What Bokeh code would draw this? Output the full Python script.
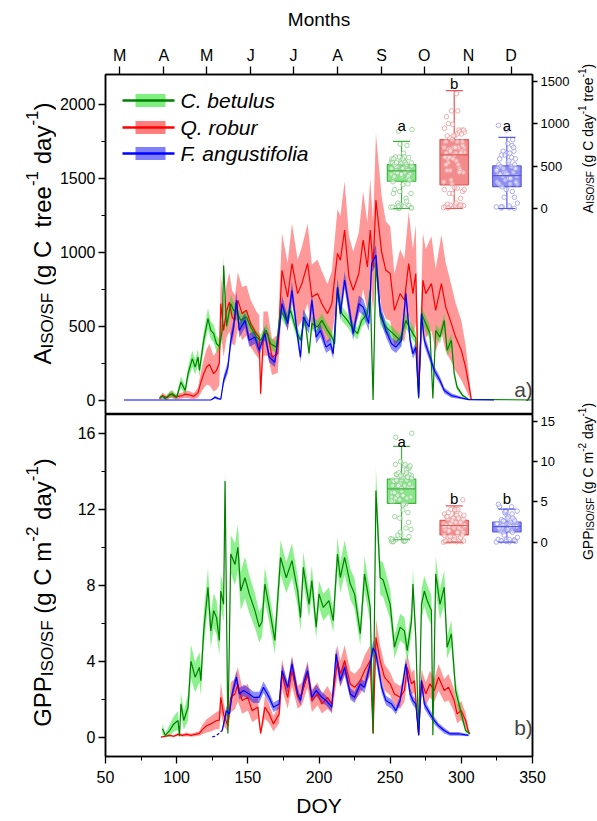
import math
import numpy as np
from bokeh.plotting import figure
from bokeh.models import Range1d, LinearAxis, FixedTicker, Label, BoxAnnotation, ColumnDataSource
from bokeh.layouts import column, row
from bokeh.embed import file_html
from bokeh.resources import INLINE
from bokeh.core.properties import value

FONT = "Liberation Sans"

# ---------------- data: panel a) A_ISO/SF ----------------
cb_a_doy = [88, 90, 92, 95, 97, 100, 103, 106, 108, 111, 113, 115, 116, 119, 122, 124, 126, 128, 130, 132,
            133, 135, 138, 140, 142, 145, 149, 152, 156, 159, 163, 166, 170, 173, 177, 180, 184, 187, 190, 193,
            195, 199, 202, 206, 209, 211, 213, 216, 220, 223, 227, 230, 234, 236, 238, 240, 243, 247, 252, 257,
            261, 266, 268, 270, 272, 275, 278, 280, 282, 285, 288, 290, 293, 295, 297, 301, 305, 350]
cb_a_mean = [15, 25, 10, 35, 42, 19, 121, 64, 178, 280, 223, 290, 200, 404, 551, 471, 449, 381, 363, 470,
             910, 500, 652, 607, 600, 539, 562, 494, 426, 404, 471, 381, 358, 607, 539, 607, 471, 404, 562, 315,
             518, 494, 539, 471, 426, 381, 760, 585, 539, 494, 449, 539, 585, 743, 0, 930, 562, 494, 449, 404,
             539, 449, 420, 10, 585, 517, 449, 10, 471, 426, 539, 336, 404, 178, 87, 30, 5, 0]
cb_a_sd = [10, 15, 10, 20, 25, 15, 40, 30, 45, 55, 50, 55, 45, 60, 70, 60, 60, 55, 50, 60,
           60, 50, 60, 55, 55, 50, 50, 45, 45, 40, 45, 40, 35, 50, 45, 50, 40, 35, 45, 30,
           45, 45, 45, 40, 40, 35, 55, 50, 45, 45, 40, 45, 50, 55, 0, 60, 50, 45, 40, 40,
           50, 45, 40, 0, 50, 50, 45, 0, 45, 45, 50, 40, 45, 30, 20, 10, 3, 0]

qr_a_doy = [88, 90, 93, 96, 99, 101, 104, 106, 109, 112, 115, 117, 119, 121, 123, 126, 128, 130, 131, 133,
            135, 137, 139, 141, 143, 146, 149, 152, 156, 158, 159, 161, 164, 167, 171, 174, 178, 181, 185, 188,
            192, 195, 199, 202, 206, 209, 213, 215, 218, 221, 224, 228, 231, 234, 236, 238, 240, 244, 247, 250,
            253, 257, 260, 263, 266, 268, 270, 273, 275, 279, 282, 286, 289, 293, 296, 300, 303, 306, 307]
qr_a_mean = [10, 30, 15, 40, 20, 25, 30, 40, 35, 25, 50, 120, 178, 223, 240, 178, 200, 250, 652, 471,
             600, 663, 560, 539, 675, 585, 607, 517, 449, 426, 42, 449, 449, 290, 313, 878, 697, 924, 720, 788,
             924, 697, 720, 652, 585, 652, 992, 946, 1150, 833, 743, 856, 1082, 901, 1150, 900, 1353, 1000, 878, 856,
             607, 720, 675, 924, 720, 856, 42, 811, 720, 788, 607, 788, 630, 517, 426, 336, 223, 64, 5]
qr_a_sd = [10, 20, 15, 25, 15, 20, 20, 25, 25, 20, 35, 70, 100, 120, 140, 120, 130, 150, 200, 180,
           180, 200, 180, 170, 190, 180, 170, 160, 150, 150, 30, 150, 150, 120, 130, 250, 230, 270, 230, 250,
           270, 220, 230, 220, 200, 220, 300, 300, 330, 280, 260, 280, 330, 300, 350, 300, 450, 380, 330, 320,
           250, 300, 280, 350, 300, 330, 30, 320, 300, 320, 280, 330, 300, 260, 230, 200, 150, 50, 5]

fa_a_doy = [63, 124, 127, 129, 131, 133, 136, 138, 140, 142, 144, 148, 151, 155, 158, 162, 165, 169, 172, 174,
            178, 181, 185, 187, 189, 193, 195, 198, 201, 205, 208, 210, 213, 215, 218, 221, 224, 228, 231, 235,
            237, 240, 243, 247, 251, 254, 258, 261, 264, 266, 268, 270, 272, 274, 278, 281, 285, 288, 293, 298,
            305, 323]
fa_a_mean = [0, 0, 19, 10, 5, 132, 223, 400, 494, 675, 471, 539, 404, 426, 336, 449, 290, 256, 471, 652,
             517, 743, 426, 290, 562, 494, 675, 426, 471, 358, 381, 313, 765, 585, 811, 630, 449, 652, 630, 517,
             924, 980, 600, 471, 381, 358, 404, 720, 404, 313, 358, 19, 585, 404, 290, 200, 132, 64, 30, 19,
             3, 0]
fa_a_sd = [0, 0, 10, 8, 5, 30, 40, 50, 55, 60, 50, 50, 45, 45, 40, 45, 35, 35, 45, 55,
           50, 60, 45, 35, 50, 45, 55, 45, 45, 40, 40, 35, 60, 50, 60, 55, 45, 55, 55, 50,
           65, 70, 55, 45, 40, 40, 40, 55, 40, 35, 35, 5, 50, 40, 35, 30, 25, 20, 15, 10,
           3, 0]

# ---------------- data: panel b) GPP_ISO/SF ----------------
cb_g_doy = [90, 92, 95, 98, 101, 102, 103, 105, 108, 110, 113, 116, 117, 119, 122, 124, 126, 128, 130, 131,
            133, 134, 136, 138, 141, 143, 145, 148, 151, 155, 158, 160, 162, 165, 169, 173, 177, 181, 185, 187,
            189, 193, 195, 198, 200, 203, 207, 210, 213, 215, 218, 222, 225, 229, 232, 236, 238, 240, 243, 245,
            250, 253, 257, 260, 262, 265, 266, 268, 270, 272, 274, 276, 279, 280, 282, 285, 288, 290, 293, 296,
            300, 303, 306]
cb_g_mean = [0.44, 0.1, 0.35, 0.7, 0.88, 0.05, 1.76, 0.88, 1.58, 4.0, 3.16, 3.68, 2.98, 5.6, 7.9, 5.6, 6.67, 6.3, 5.1, 7.7,
             7.0, 13.5, 0.2, 9.65, 9.1, 10.0, 7.7, 8.4, 7.55, 6.67, 5.8, 6.1, 8.07, 6.84, 5.1, 9.47, 8.4, 9.3, 7.7, 6.3,
             8.95, 7.0, 8.25, 5.8, 7.55, 6.84, 7.2, 6.14, 9.65, 8.4, 9.47, 8.07, 7.55, 5.45, 8.6, 6.84, 0.2, 13.0, 8.4, 8.3,
             7.0, 4.74, 5.8, 5.6, 4.56, 6.14, 8.07, 5.26, 0.1, 7.0, 7.7, 7.2, 6.67, 0.1, 8.6, 7.0, 7.9, 4.74, 5.45, 2.46,
             1.23, 0.35, 0.18]
cb_g_sd = [0.3, 0.1, 0.3, 0.4, 0.5, 0.05, 0.6, 0.5, 0.7, 0.9, 0.8, 0.8, 0.8, 0.9, 1.0, 0.9, 0.9, 0.9, 0.8, 0.9,
           0.9, 0.6, 0.1, 1.0, 1.1, 1.2, 1.0, 1.1, 1.0, 0.9, 0.8, 0.8, 0.9, 0.8, 0.7, 0.9, 0.8, 0.9, 0.8, 0.7,
           0.8, 0.7, 0.8, 0.6, 0.7, 0.7, 0.7, 0.6, 0.9, 0.8, 0.9, 0.8, 0.8, 0.6, 0.9, 0.8, 0.1, 1.2, 0.9, 0.9,
           0.8, 0.6, 0.7, 0.7, 0.6, 0.7, 0.8, 0.6, 0.05, 0.8, 0.8, 0.8, 0.8, 0.05, 0.9, 0.8, 0.9, 0.6, 0.7, 0.5,
           0.3, 0.1, 0.05]

qr_g_doy = [89, 92, 95, 98, 101, 104, 107, 110, 113, 116, 118, 121, 124, 128, 130, 131, 133, 136, 138, 141,
            143, 146, 150, 153, 157, 159, 162, 165, 168, 172, 174, 178, 181, 185, 188, 192, 195, 199, 202, 206,
            209, 213, 215, 218, 222, 225, 229, 232, 236, 238, 240, 243, 246, 250, 253, 257, 260, 262, 265, 267,
            270, 272, 275, 278, 281, 284, 288, 291, 295, 297, 300, 303, 305, 306]
qr_g_mean = [0.0, 0.05, 0.1, 0.05, 0.15, 0.1, 0.15, 0.1, 0.15, 0.2, 0.4, 0.6, 0.7, 0.88, 0.9, 2.1, 1.2, 0.6, 2.1, 2.28,
             2.8, 1.93, 2.1, 1.4, 1.58, 0.2, 1.58, 1.23, 0.7, 1.23, 3.33, 2.1, 3.5, 2.1, 2.28, 3.33, 1.93, 2.28, 1.75, 2.1,
             1.75, 4.04, 3.33, 4.04, 2.8, 2.63, 2.98, 3.5, 4.04, 0.2, 5.26, 4.0, 3.16, 2.81, 2.28, 2.1, 2.46, 3.68, 2.81, 2.98,
             0.1, 2.98, 2.28, 2.81, 2.46, 3.16, 2.46, 2.63, 1.93, 1.23, 1.4, 0.88, 0.3, 0.18]
qr_g_sd = [0.02, 0.05, 0.05, 0.05, 0.08, 0.08, 0.1, 0.08, 0.1, 0.12, 0.25, 0.35, 0.4, 0.45, 0.5, 0.8, 0.6, 0.3, 0.8, 0.8,
           0.9, 0.7, 0.7, 0.6, 0.6, 0.1, 0.6, 0.5, 0.4, 0.5, 0.8, 0.6, 0.8, 0.6, 0.6, 0.7, 0.6, 0.6, 0.5, 0.6,
           0.5, 0.8, 0.7, 0.8, 0.7, 0.7, 0.7, 0.8, 0.8, 0.1, 1.0, 0.8, 0.7, 0.6, 0.6, 0.6, 0.6, 0.7, 0.6, 0.6,
           0.05, 0.6, 0.6, 0.7, 0.6, 0.7, 0.6, 0.7, 0.6, 0.5, 0.5, 0.4, 0.15, 0.05]

fa_g_doy = [132, 135, 137, 139, 142, 144, 147, 151, 154, 158, 161, 165, 168, 172, 174, 178, 181, 185, 187, 189,
            192, 195, 198, 202, 205, 209, 212, 215, 218, 222, 225, 229, 232, 236, 238, 240, 244, 247, 251, 254,
            257, 261, 264, 266, 268, 270, 272, 274, 278, 281, 284, 288, 292, 298, 305]
fa_g_mean = [0.35, 1.4, 1.23, 2.28, 3.16, 2.28, 2.46, 2.28, 2.1, 2.1, 2.63, 2.1, 1.58, 1.75, 3.5, 2.63, 3.86, 2.28, 1.93, 2.8,
             3.5, 2.1, 2.46, 2.1, 1.93, 1.58, 4.39, 2.98, 3.68, 2.28, 2.1, 2.8, 2.63, 3.86, 4.7, 4.39, 2.63, 1.93, 1.75, 1.4,
             1.93, 3.86, 2.28, 1.93, 1.75, 0.1, 2.98, 1.75, 1.23, 0.88, 0.6, 0.35, 0.18, 0.18, 0.1]
fa_g_sd = [0.1, 0.25, 0.25, 0.3, 0.35, 0.3, 0.3, 0.3, 0.3, 0.3, 0.3, 0.3, 0.25, 0.25, 0.35, 0.3, 0.35, 0.3, 0.25, 0.3,
           0.35, 0.3, 0.3, 0.3, 0.25, 0.25, 0.4, 0.3, 0.35, 0.3, 0.3, 0.3, 0.3, 0.35, 0.4, 0.4, 0.3, 0.25, 0.25, 0.2,
           0.25, 0.35, 0.3, 0.25, 0.25, 0.05, 0.3, 0.25, 0.2, 0.2, 0.15, 0.15, 0.1, 0.1, 0.05]
fa_g_dash_doy = [125, 127, 129, 131, 132]
fa_g_dash_mean = [0.02, 0.05, 0.15, 0.3, 0.35]

# ---------------- box plot summaries (right axes) ----------------
box_pos = [258, 295, 332]
a_lo = [0, 0, 0]
a_q1 = [321, 279, 259]
a_med = [443, 632, 388]
a_q3 = [518, 812, 502]
a_hi = [792, 1388, 839]
a_letters = ["a", "b", "a"]
a_letter_y = [976, 1474, 976]

g_lo = [0.3, 0, 0]
g_q1 = [4.8, 0.9, 1.29]
g_med = [6.6, 2.07, 1.94]
g_q3 = [7.82, 2.7, 2.48]
g_hi = [11.87, 4.5, 4.1]
g_letters = ["a", "b", "b"]
g_letter_y = [12.5, 5.46, 5.46]

month_ticks = [60, 91, 121, 152, 182, 213, 244, 274, 305, 335]
month_labels = ["M", "A", "M", "J", "J", "A", "S", "O", "N", "D"]
species = ["C. betulus", "Q. robur", "F. angustifolia"]

# ---------------- styles ----------------
LINE = ["#008000", "#FF0000", "#0000FF"]
BAND = ["#00E000", "#FF0000", "#0000FF"]
BAND_A = [0.45, 0.4, 0.45]
BOX_FILL = ["#86E886", "#F28C8C", "#8C8CF2"]
BOX_LINE = ["#45B045", "#E05A5A", "#5A5AE0"]
PT_LINE = ["#8CCF8C", "#EE9A9A", "#9A9AEE"]

PAGE_H = 821
LW = 56          # left title strip
RX = 572         # right title strip starts here
MW = RX - LW     # main plots width
FRAME_L = 103 - LW
FRAME_R = RX - 534

AW = {' ': 278, '(': 333, ')': 333, '/': 278, '-': 333, '1': 556, '2': 556, 'A': 667, 'C': 722, 'F': 611,
      'G': 778, 'I': 278, 'O': 778, 'P': 667, 'S': 667, 'a': 556, 'd': 556, 'e': 556, 'g': 556, 'm': 833,
      'r': 333, 't': 278, 'y': 500}


def tw(s, size):
    return sum(AW.get(c, 556) for c in s) * size / 1000.0


def vtitle(p, xb, yc, pieces):
    """Rotated rich title in a strip figure whose ranges are page pixels (y downward)."""
    total = sum(tw(t, s) for t, s, d in pieces)
    y = yc + total / 2.0
    for t, s, d in pieces:
        lead = len(t) - len(t.lstrip(' '))
        y -= lead * AW[' '] * s / 1000.0
        core = t.strip(' ')
        p.text(x=[xb - d], y=[y], text=[core], angle=math.pi / 2, text_font=value(FONT),
               text_font_size=value(f"{s}px"), text_align="left", text_baseline="alphabetic",
               text_color="black")
        y -= tw(core, s)


def strip_fig(x0, x1):
    f = figure(width=int(x1 - x0), height=PAGE_H, x_range=Range1d(x0, x1), y_range=Range1d(PAGE_H, 0),
               x_axis_location=None, y_axis_location=None, output_backend="svg", toolbar_location=None,
               min_border_left=0, min_border_right=0, min_border_top=0, min_border_bottom=0)
    f.grid.visible = False
    f.outline_line_color = None
    f.background_fill_color = "white"
    f.border_fill_color = "white"
    return f


def style_axis(ax, size="16px"):
    ax.axis_line_color = "black"
    ax.axis_line_width = 1.5
    ax.major_tick_line_color = "black"
    ax.major_tick_line_width = 1.3
    ax.minor_tick_line_color = "black"
    ax.minor_tick_line_width = 1.0
    ax.major_tick_in = 0
    ax.minor_tick_in = 0
    ax.major_label_text_font = FONT
    ax.major_label_text_font_size = size
    ax.major_label_text_color = "black"
    ax.axis_label_text_font = FONT
    ax.axis_label_text_font_style = "normal"
    ax.axis_label_text_color = "black"


def draw_panel(p, series, dashed=None):
    srcs = []
    for i in [1, 0, 2]:
        doy, mean, sd = series[i]
        m = np.array(mean, dtype=float)
        s = np.array(sd, dtype=float)
        src = ColumnDataSource(dict(x=doy, y=m, lo=np.clip(m - s, 0, None), hi=m + s))
        p.varea(x="x", y1="lo", y2="hi", source=src, fill_color=BAND[i], fill_alpha=BAND_A[i])
        srcs.append((i, src))
    for i, src in srcs:
        p.line(x="x", y="y", source=src, line_color=LINE[i], line_width=1.2)
    if dashed is not None:
        p.line(x=dashed[0], y=dashed[1], line_color=LINE[2], line_width=1.2, line_dash="3 2")


def draw_boxes(p, lo, q1, med, q3, hi, pts, letters, letter_y, fs):
    hw, cw, jw = 10, 6, 15
    for i, xc in enumerate(box_pos):
        p.segment(x0=[xc, xc], y0=[q3[i], q1[i]], x1=[xc, xc], y1=[hi[i], lo[i]],
                  line_color=BOX_LINE[i], line_width=1.2, y_range_name="r")
        p.quad(left=[xc - hw], right=[xc + hw], bottom=[q1[i]], top=[q3[i]],
               fill_color=BOX_FILL[i], line_color=BOX_LINE[i], line_width=1.2, y_range_name="r")
        vals = np.array(pts[i], dtype=float)
        offs = ((np.arange(len(vals)) * 0.6180339887) % 1.0 - 0.5) * jw
        p.scatter(x=xc + offs, y=vals, marker="circle", size=4.5, fill_color="white", fill_alpha=0.5,
                  line_color=PT_LINE[i], line_width=0.8, y_range_name="r")
        p.segment(x0=[xc - hw, xc - cw, xc - cw], y0=[med[i], hi[i], lo[i]],
                  x1=[xc + hw, xc + cw, xc + cw], y1=[med[i], hi[i], lo[i]],
                  line_color=BOX_LINE[i], line_width=1.2, y_range_name="r")
    p.text(x=box_pos, y=letter_y, text=letters, text_font=value(FONT), text_font_size=fs,
           text_align="center", text_baseline="middle", text_color="black", y_range_name="r")


x_range = Range1d(50, 350)

# ---------------- top panel ----------------
top = figure(width=MW, height=414, x_range=x_range, y_range=Range1d(-98, 2203),
             x_axis_location="above", output_backend="svg", toolbar_location=None,
             min_border_left=FRAME_L, min_border_right=FRAME_R, min_border_top=74, min_border_bottom=0)
top.grid.visible = False
top.outline_line_color = "black"
top.outline_line_width = 1.5
top.background_fill_color = "white"
top.border_fill_color = "white"

xa = top.xaxis[0]
style_axis(xa)
xa.ticker = FixedTicker(ticks=month_ticks)
xa.major_label_overrides = {t: l for t, l in zip(month_ticks, month_labels)}
xa.major_tick_out = 8
xa.minor_tick_out = 0
xa.major_label_standoff = 3
xa.axis_label = "Months"
xa.axis_label_text_font_size = "19px"
xa.axis_label_standoff = 14

ya = top.yaxis[0]
style_axis(ya)
ya.ticker = FixedTicker(ticks=[0, 500, 1000, 1500, 2000], minor_ticks=[250, 750, 1250, 1750])
ya.major_tick_out = 7
ya.minor_tick_out = 4
ya.major_label_standoff = 3

top.extra_y_ranges = {"r": Range1d(-2427, 1579)}
ra = LinearAxis(y_range_name="r", ticker=FixedTicker(ticks=[0, 500, 1000, 1500]))
style_axis(ra, "13px")
ra.major_tick_out = 5
ra.minor_tick_out = 0
ra.major_label_standoff = 3
top.add_layout(ra, "right")

draw_panel(top, [(cb_a_doy, cb_a_mean, cb_a_sd), (qr_a_doy, qr_a_mean, qr_a_sd), (fa_a_doy, fa_a_mean, fa_a_sd)])
draw_boxes(top, a_lo, a_q1, a_med, a_q3, a_hi,
           [cb_a_mean[:-1], qr_a_mean, fa_a_mean[2:-1]], a_letters, a_letter_y, "15px")

# legend (screen units relative to the frame)
for k, yy in enumerate([314, 287, 261]):
    top.add_layout(BoxAnnotation(left=30, right=60, bottom=yy - 6.5, top=yy + 6.5,
                                 left_units="screen", right_units="screen",
                                 top_units="screen", bottom_units="screen",
                                 fill_color=BAND[k], fill_alpha=0.5, line_color=None))
    top.add_layout(BoxAnnotation(left=17, right=69, bottom=yy - 1.3, top=yy + 1.3,
                                 left_units="screen", right_units="screen",
                                 top_units="screen", bottom_units="screen",
                                 fill_color=LINE[k], fill_alpha=1.0, line_color=None))
    top.add_layout(Label(x=75, y=yy, x_units="screen", y_units="screen", text=species[k],
                         text_font=FONT, text_font_style="italic", text_font_size="21px",
                         text_baseline="middle", text_align="left", text_color="black"))

top.add_layout(Label(x=418, y=25, x_units="screen", y_units="screen", text="a)", text_font=FONT,
                     text_font_size="21px", text_align="center", text_baseline="middle"))

# ---------------- bottom panel ----------------
bot = figure(width=MW, height=PAGE_H - 414, x_range=x_range, y_range=Range1d(-1.017, 17.0),
             output_backend="svg", toolbar_location=None,
             min_border_left=FRAME_L, min_border_right=FRAME_R, min_border_top=0, min_border_bottom=65)
bot.grid.visible = False
bot.outline_line_color = "black"
bot.outline_line_width = 1.5
bot.background_fill_color = "white"
bot.border_fill_color = "white"

bx = bot.xaxis[0]
style_axis(bx)
bx.ticker = FixedTicker(ticks=[50, 100, 150, 200, 250, 300, 350], minor_ticks=[75, 125, 175, 225, 275, 325])
bx.major_tick_out = 7
bx.minor_tick_out = 4
bx.major_label_standoff = 7
bx.axis_label = "DOY"
bx.axis_label_text_font_size = "21px"
bx.axis_label_standoff = 8

by = bot.yaxis[0]
style_axis(by)
by.ticker = FixedTicker(ticks=[0, 4, 8, 12, 16], minor_ticks=[2, 6, 10, 14])
by.major_tick_out = 7
by.minor_tick_out = 4
by.major_label_standoff = 3

bot.extra_y_ranges = {"r": Range1d(-26.57, 15.83)}
rb = LinearAxis(y_range_name="r", ticker=FixedTicker(ticks=[0, 5, 10, 15]))
style_axis(rb, "13px")
rb.major_tick_out = 5
rb.minor_tick_out = 0
rb.major_label_standoff = 3
bot.add_layout(rb, "right")

draw_panel(bot, [(cb_g_doy, cb_g_mean, cb_g_sd), (qr_g_doy, qr_g_mean, qr_g_sd), (fa_g_doy, fa_g_mean, fa_g_sd)],
           dashed=(fa_g_dash_doy, fa_g_dash_mean))
draw_boxes(bot, g_lo, g_q1, g_med, g_q3, g_hi,
           [cb_g_mean, qr_g_mean, fa_g_dash_mean + fa_g_mean], g_letters, g_letter_y, "15px")

bot.add_layout(Label(x=418, y=29, x_units="screen", y_units="screen", text="b)", text_font=FONT,
                     text_font_size="21px", text_align="center", text_baseline="middle"))

# ---------------- axis titles in side strips (page pixel coordinates) ----------------
left = strip_fig(0, LW)
vtitle(left, 42, 233, [("A", 24, 0), ("ISO/SF", 17, -5), (" (g C", 24, 0), ("  tree", 24, 0),
                       ("-1", 17, 11), (" day", 24, 0), ("-1", 17, 11), (")", 24, 0)])
vtitle(left, 42, 592, [("GPP", 24, 0), ("ISO/SF", 17, -5), (" (g C m", 24, 0), ("-2", 17, 11),
                       (" day", 24, 0), ("-1", 17, 11), (")", 24, 0)])

right = strip_fig(RX, 597)
vtitle(right, 587, 138, [("A", 14, 0), ("ISO/SF", 10, -3), (" (g C day", 14, 0), ("-1", 10, 6),
                         (" tree", 14, 0), ("-1", 10, 6), (")", 14, 0)])
vtitle(right, 587, 481, [("GPP", 14, 0), ("ISO/SF", 10, -3), (" (g C m", 14, 0), ("-2", 10, 6),
                         (" day", 14, 0), ("-1", 10, 6), (")", 14, 0)])

layout = row(left, column(top, bot, spacing=0), right, spacing=0)
open("out.html", "w").write(file_html(layout, INLINE))
